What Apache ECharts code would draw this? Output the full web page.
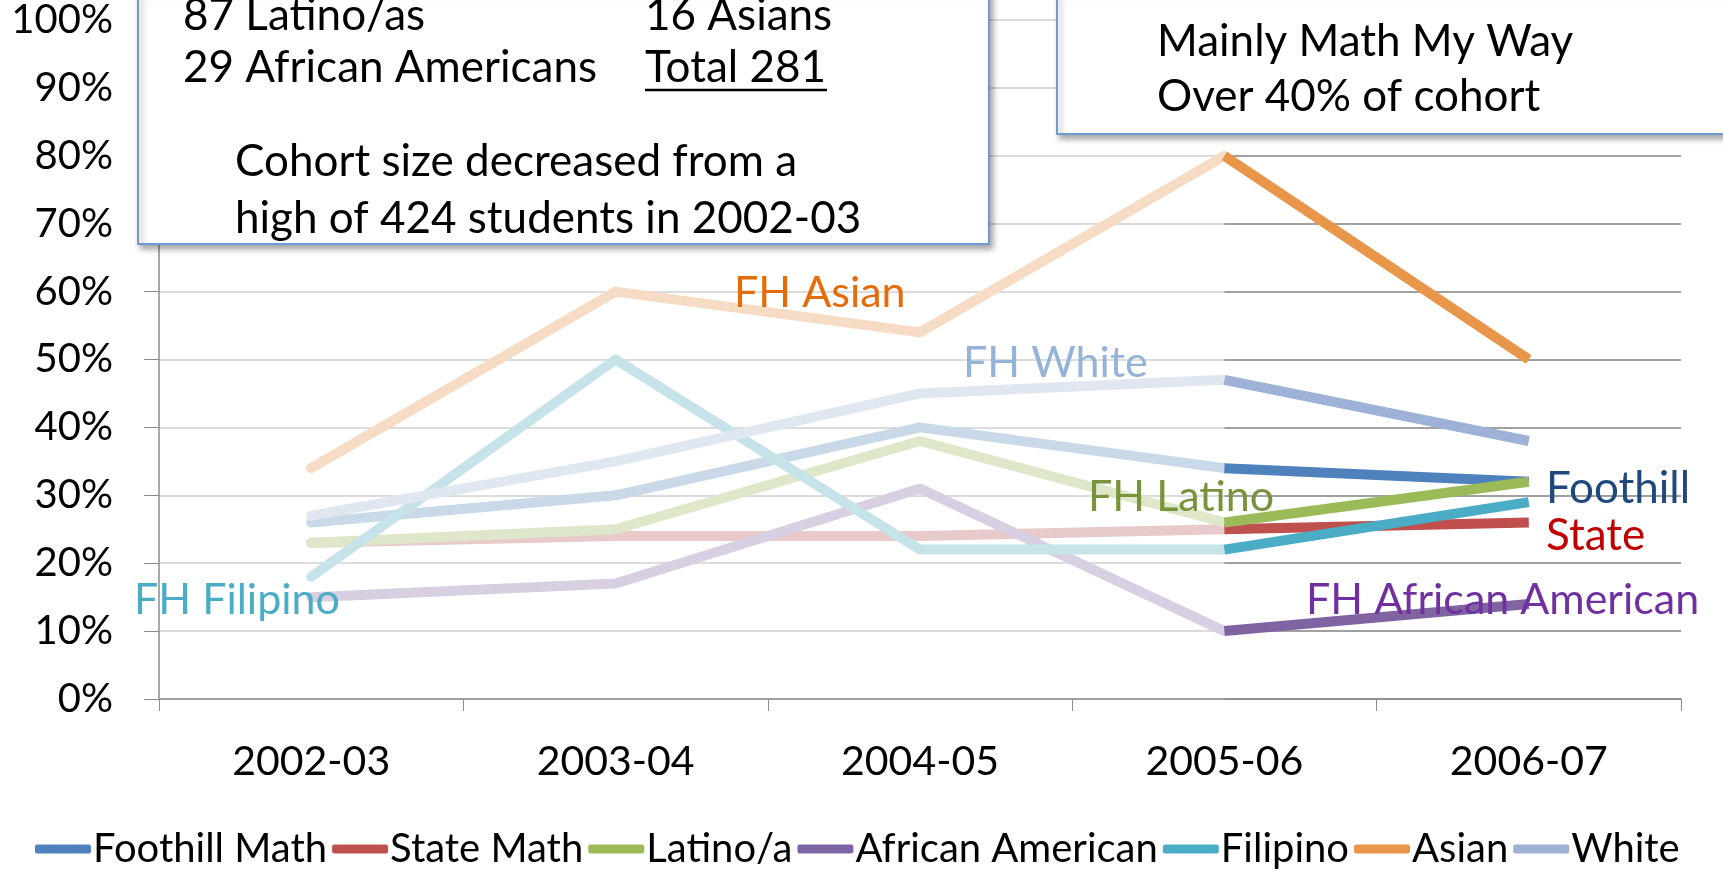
<!DOCTYPE html>
<html>
<head>
<meta charset="utf-8">
<script src="https://cdn.jsdelivr.net/npm/echarts@6/dist/echarts.min.js"></script>
<style>
html,body{margin:0;padding:0;background:#fff;}
#chart{width:1723px;height:870px;}
</style>
</head>
<body>
<div id="chart"></div>
<script>
// ---- data ----
const categories = ['2002-03', '2003-04', '2004-05', '2005-06', '2006-07'];
const seriesNames = ['Foothill Math', 'State Math', 'Latino/a', 'African American', 'Filipino', 'Asian', 'White'];
const foothillMath = [26, 30, 40, 34, 32];
const stateMath = [23, 24, 24, 25, 26];
const latino = [23, 25, 38, 26, 32];
const africanAmerican = [15, 17, 31, 10, 14];
const filipino = [18, 50, 22, 22, 29];
const asian = [34, 60, 54, 80, 50];
const white = [27, 35, 45, 47, 38];
const yTicks = [0, 10, 20, 30, 40, 50, 60, 70, 80, 90, 100];

const values = [foothillMath, stateMath, latino, africanAmerican, filipino, asian, white];
const brightColors = ['#4F81BD', '#C0504D', '#9BBB59', '#8064A2', '#4BACC6', '#E8964A', '#9DB2D6'];
const fadedColors = ['#C9D9E8', '#E8CACA', '#DFE7CB', '#D8D0E2', '#C5E3E8', '#F6DCC4', '#E1E7F1'];
const splitAt = 3; // faded up to 2005-06, bright afterwards

const FONT = 'Lato';

const series = [];
values.forEach((vals, i) => {
  series.push({
    name: seriesNames[i] + ' (earlier)',
    type: 'line',
    xAxisIndex: 0, yAxisIndex: 0,
    data: vals.map((v, j) => j <= splitAt ? v : null),
    symbol: 'none',
    lineStyle: { color: fadedColors[i], width: 10, cap: 'round', join: 'round' },
    itemStyle: { color: fadedColors[i] },
    z: 2,
    silent: true
  });
});
values.forEach((vals, i) => {
  series.push({
    name: seriesNames[i],
    type: 'line',
    xAxisIndex: 0, yAxisIndex: 0,
    data: vals.map((v, j) => j >= splitAt ? v : null),
    symbol: 'none',
    lineStyle: { color: brightColors[i], width: 10, cap: 'butt', join: 'round' },
    itemStyle: { color: brightColors[i] },
    z: 3
  });
});

const chart = echarts.init(document.getElementById('chart'), null, { renderer: 'canvas' });

const txt = (x, y, text, color, size, extra) => Object.assign({
  type: 'text', x: x, y: y, z: 50,
  style: { text: text, fill: color, font: size + 'px ' + FONT, textVerticalAlign: 'middle', verticalAlign: 'middle' }
}, extra || {});

const BOX = 44;
const LBL = 43;

const option = {
  animation: false,
  backgroundColor: '#ffffff',
  grid: [
    { left: 159, right: 42, top: 20, bottom: 171, containLabel: false },
    { left: 1224, right: 42, top: 20, bottom: 171, containLabel: false }
  ],
  xAxis: [
    {
      type: 'category', data: categories, gridIndex: 0, boundaryGap: true,
      axisLine: { lineStyle: { color: '#8C8C8C', width: 1.5 } },
      axisTick: { show: true, length: 12, lineStyle: { color: '#8C8C8C' } },
      axisLabel: { color: '#000', fontFamily: FONT, fontSize: 41, margin: 42 }
    },
    {
      type: 'category', data: [''], gridIndex: 1, show: false
    }
  ],
  yAxis: [
    {
      type: 'value', gridIndex: 0, min: 0, max: 100, interval: 10,
      axisLine: { show: true, lineStyle: { color: '#8C8C8C', width: 1.5 } },
      axisTick: { show: true, length: 15, lineStyle: { color: '#8C8C8C' } },
      axisLabel: { color: '#000', fontFamily: FONT, fontSize: 40, margin: 46, formatter: v => v + '%' },
      splitLine: { show: true, lineStyle: { color: '#DCDCDC', width: 2 } }
    },
    {
      type: 'value', gridIndex: 1, min: 0, max: 100, interval: 10,
      axisLine: { show: false }, axisTick: { show: false }, axisLabel: { show: false },
      splitLine: { show: true, lineStyle: { color: '#A0A0A0', width: 2 } }
    }
  ],
  legend: {
    data: seriesNames,
    left: 30, top: 824,
    itemGap: 5, itemWidth: 56, itemHeight: 9,
    icon: 'roundRect',
    textStyle: { color: '#000', fontFamily: FONT, fontSize: 40, padding: [0, 0, 0, -3] }
  },
  series: series,
  graphic: [
    // annotation box 1
    {
      type: 'rect', z: 40,
      shape: { x: 138, y: -10, width: 851, height: 254 },
      style: { fill: '#fff', stroke: '#6F9BD1', lineWidth: 2, shadowColor: 'rgba(0,0,0,0.35)', shadowBlur: 6, shadowOffsetX: 3, shadowOffsetY: 4 }
    },
    txt(183, 16, '87 Latino/as', '#000', BOX),
    txt(645, 16, '16 Asians', '#000', BOX),
    txt(183, 68, '29 African Americans', '#000', BOX),
    txt(645, 68, 'Total 281', '#000', BOX),
    { type: 'line', z: 50, shape: { x1: 645, y1: 90, x2: 827, y2: 90 }, style: { stroke: '#000', lineWidth: 2.5 } },
    txt(235, 162, 'Cohort size decreased from a', '#000', BOX),
    txt(235, 219, 'high of 424 students in 2002-03', '#000', BOX),
    // annotation box 2
    {
      type: 'rect', z: 40,
      shape: { x: 1057, y: -10, width: 700, height: 144 },
      style: { fill: '#fff', stroke: '#6F9BD1', lineWidth: 2, shadowColor: 'rgba(0,0,0,0.35)', shadowBlur: 6, shadowOffsetX: 3, shadowOffsetY: 4 }
    },
    txt(1157, 42, 'Mainly Math My Way', '#000', BOX),
    txt(1157, 97, 'Over 40% of cohort', '#000', BOX),
    // series labels
    txt(734, 293, 'FH Asian', '#E46C0A', LBL),
    txt(134, 600, 'FH Filipino', '#4BACC6', LBL),
    txt(963, 363, 'FH White', '#95B3D7', LBL),
    txt(1088, 497, 'FH Latino', '#77933C', LBL),
    txt(1546, 489, 'Foothill', '#1F497D', 44),
    txt(1546, 536, 'State', '#C00000', 44),
    txt(1306, 600, 'FH African American', '#7030A0', LBL)
  ]
};

chart.setOption(option);
// align the darker-grid overlay with the 2005-06 category position
const splitX = chart.convertToPixel({ xAxisIndex: 0 }, categories[splitAt]);
chart.setOption({ grid: [{}, { left: splitX }] });
</script>
</body>
</html>
